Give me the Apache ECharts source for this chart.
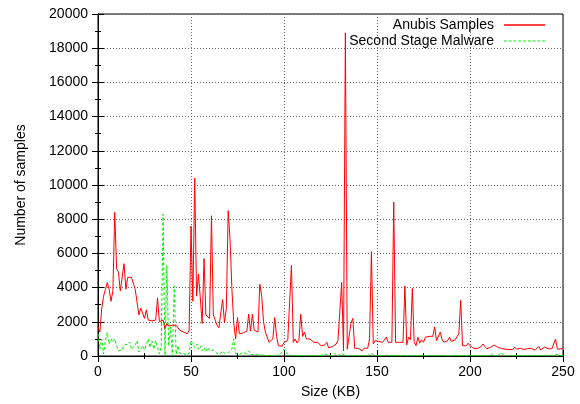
<!DOCTYPE html>
<html>
<head>
<meta charset="utf-8">
<script src="https://cdn.jsdelivr.net/npm/echarts@6/dist/echarts.min.js"></script>
<style>
html,body{margin:0;padding:0;background:#fff;}
#chart{width:580px;height:404px;}
</style>
</head>
<body>
<div id="chart"></div>
<script>
// Size bins in KB: 0..250 step 1 (index = size)
var binStartKB = 0;
var binStepKB = 1;

var anubisSamples = [
1700,1400,2800,3500,3900,4300,3900,3200,3800,8400,
5100,4900,3800,3900,5400,3900,4600,4500,4600,4500,
3900,3800,2400,2800,2900,2200,2700,2100,2050,2050,
2000,2100,3400,2000,2000,2100,1600,1900,1750,1700,
1800,1900,1800,1700,1500,1450,1400,1350,1300,1500,
7600,3200,10400,3500,4800,3400,1900,5700,2400,2300,
2200,8200,2400,2100,1800,1650,1700,3300,1950,2800,
8500,6800,3900,1900,1000,2250,1300,1300,1350,1400,
1450,2450,1450,2450,1500,1400,1400,4200,3500,2000,
1400,1400,800,900,1000,2250,1150,600,600,570,
800,900,900,950,5300,800,1000,760,900,2450,
1150,1400,1000,900,1000,1000,800,800,800,700,
600,570,650,800,480,500,550,600,700,900,
900,4300,300,18900,400,400,1900,2200,450,500,
450,400,300,450,350,450,1000,6100,700,900,
900,850,850,800,800,1100,800,800,800,9000,
800,800,800,750,800,4100,650,1100,950,3950,
800,600,1100,750,950,800,1100,1100,1150,1100,
1150,1700,900,950,1400,950,800,850,900,1100,
850,900,950,900,1300,3250,600,550,600,750,
600,520,450,450,430,500,560,700,550,430,
330,500,580,640,580,520,450,430,330,400,
430,380,350,380,520,400,350,450,500,380,
400,430,380,450,400,340,420,560,350,430,
520,450,430,480,420,450,990,400,450,420,
450
];

var secondStage = [
1300,400,1000,120,900,1380,700,1000,800,1000,
600,300,230,350,640,580,700,820,380,500,
640,900,230,400,600,350,700,1000,500,890,
400,900,500,120,600,8300,50,5300,600,1700,
0,4100,100,600,150,100,150,100,50,200,
900,1000,500,700,400,600,300,500,250,500,
300,200,350,400,150,200,150,300,150,200,
200,250,400,1000,150,200,100,150,200,100,
150,300,100,50,80,50,80,30,60,40,
30,50,20,40,30,20,40,60,100,200,
400,300,100,50,30,20,40,20,30,50,
30,20,40,30,20,30,20,40,30,20,
30,50,120,30,20,40,30,150,40,20,
30,150,40,20,30,20,30,20,40,20,
30,20,30,40,20,30,20,150,40,20,
30,20,40,20,30,50,20,30,20,30,
20,40,30,20,30,20,40,20,30,20,
40,30,20,30,50,20,30,20,30,40,
20,30,20,30,20,40,30,20,30,20,
40,30,20,30,20,30,40,20,30,20,
30,20,40,30,20,30,20,30,40,20,
30,20,150,30,20,30,20,200,30,20,
30,20,40,30,20,30,20,40,30,20,
30,20,40,30,20,30,20,30,40,20,
30,20,40,30,20,30,100,20,30,20,
30
];

var xTickMax = 250, xTickStep = 50;
var yTickMax = 20000, yTickStep = 2000;

function toPairs(arr){
  return arr.map(function(v,i){ return [binStartKB + i*binStepKB, v]; });
}

var FONT = 'Liberation Sans, Arial, sans-serif';
var FS = 14;
var RED = '#ff0000', GREEN = '#00f000';

// legend icons (styling only)
var solidIcon = 'path://M0,0h42v1.3h-42z';
var dashIcon = (function(){
  var s = 'path://';
  for (var x = 0; x < 42; x += 5) { s += 'M' + x + ',0h3v1.3h-3z'; }
  return s;
})();

var chart = echarts.init(document.getElementById('chart'), null, {renderer:'canvas'});

var gridLine = {show:true, lineStyle:{color:'#666', type:[1,2], width:1}};
var plainNum = function(v){ return String(v); };

var option = {
  animation:false,
  backgroundColor:'#fff',
  grid:{left:98, right:17, top:14, bottom:47, show:true, borderColor:'#000', borderWidth:1, backgroundColor:'transparent'},
  legend:[
    {data:[{name:'Anubis Samples', icon:solidIcon}], right:35, top:18, orient:'vertical', align:'right',
     itemWidth:41, itemHeight:1.3, padding:0, selectedMode:false,
     textStyle:{fontFamily:FONT, fontSize:FS, color:'#000', padding:[0,5,0,0]}},
    {data:[{name:'Second Stage Malware', icon:dashIcon}], right:35, top:34, orient:'vertical', align:'right',
     itemWidth:41, itemHeight:1.3, padding:0, selectedMode:false,
     textStyle:{fontFamily:FONT, fontSize:FS, color:'#000', padding:[0,5,0,0]}}
  ],
  xAxis:[
    {type:'value', min:0, max:xTickMax, interval:xTickStep, position:'bottom',
     name:'Size (KB)', nameLocation:'middle', nameGap:29,
     nameTextStyle:{fontFamily:FONT, fontSize:FS, color:'#000'},
     axisLine:{show:true, lineStyle:{color:'#000'}},
     axisTick:{show:true, inside:true, length:6, lineStyle:{color:'#000'}},
     minorTick:{show:true, splitNumber:2, length:3, lineStyle:{color:'#000'}},
     axisLabel:{fontFamily:FONT, fontSize:FS, color:'#000', margin:9, formatter:plainNum},
     splitLine:gridLine},
    {type:'value', min:0, max:xTickMax, interval:xTickStep, position:'top',
     axisLine:{show:true, lineStyle:{color:'#000'}},
     axisTick:{show:true, inside:true, length:6, lineStyle:{color:'#000'}},
     minorTick:{show:true, splitNumber:2, length:3, lineStyle:{color:'#000'}},
     axisLabel:{show:false}, splitLine:{show:false}}
  ],
  yAxis:[
    {type:'value', min:0, max:yTickMax, interval:yTickStep, position:'left',
     name:'Number of samples', nameLocation:'middle', nameGap:70, nameRotate:90,
     nameTextStyle:{fontFamily:FONT, fontSize:FS, color:'#000'},
     axisLine:{show:true, lineStyle:{color:'#000'}},
     axisTick:{show:true, inside:true, length:6, lineStyle:{color:'#000'}},
     minorTick:{show:true, splitNumber:2, length:3, lineStyle:{color:'#000'}},
     axisLabel:{fontFamily:FONT, fontSize:FS, color:'#000', margin:10, formatter:plainNum},
     splitLine:gridLine},
    {type:'value', min:0, max:yTickMax, interval:yTickStep, position:'right',
     axisLine:{show:true, lineStyle:{color:'#000'}},
     axisTick:{show:true, inside:true, length:6, lineStyle:{color:'#000'}},
     minorTick:{show:true, splitNumber:2, length:3, lineStyle:{color:'#000'}},
     axisLabel:{show:false}, splitLine:{show:false}}
  ],
  series:[
    {name:'Anubis Samples', type:'line', data:toPairs(anubisSamples), showSymbol:false, symbol:'none',
     lineStyle:{color:RED, width:1}, itemStyle:{color:RED}, z:3},
    {name:'Second Stage Malware', type:'line', data:toPairs(secondStage), showSymbol:false, symbol:'none',
     lineStyle:{color:GREEN, width:1, type:[3,2]}, itemStyle:{color:GREEN}, z:2}
  ]
};
chart.setOption(option);
</script>
</body>
</html>
